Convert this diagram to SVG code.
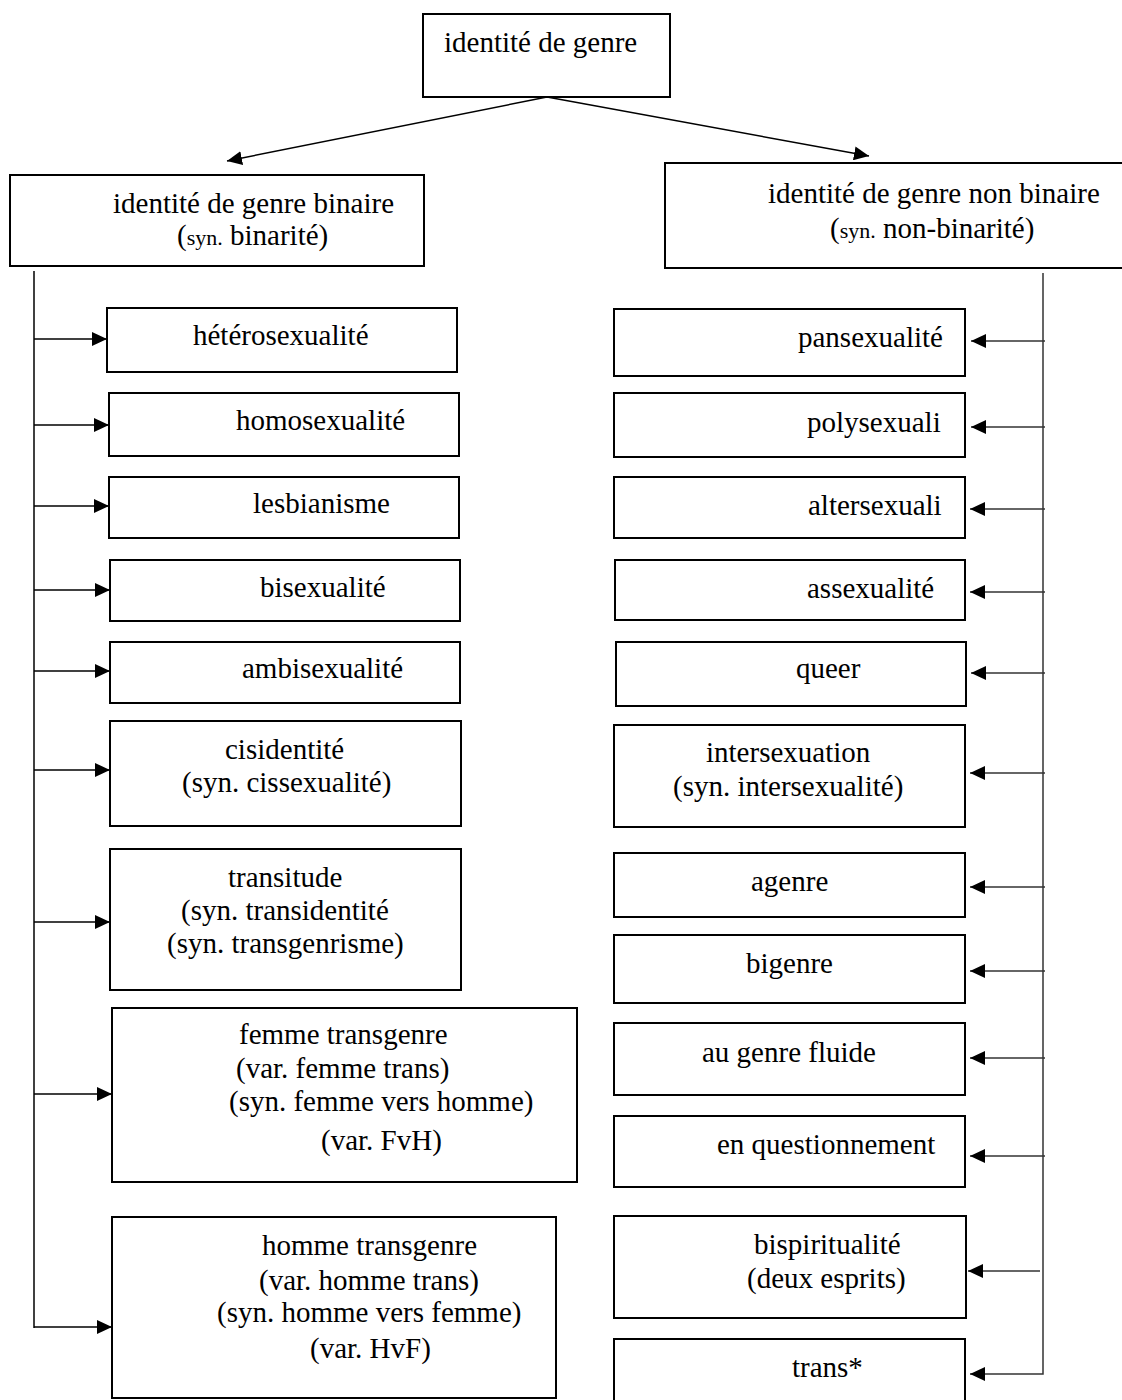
<svg xmlns="http://www.w3.org/2000/svg" width="1122" height="1400" viewBox="0 0 1122 1400">
<style>
.box{fill:#fff;stroke:#000;stroke-width:2}
.t{font-family:"Liberation Serif","Times New Roman",serif;font-size:29px;fill:#000}
.s{font-size:22px}
.c{stroke:#000;stroke-width:1.5;fill:none}
.g{stroke:#333;stroke-width:1.5;fill:none}
</style>
<defs>
<marker id="ah" viewBox="0 0 15 14" refX="15" refY="7" markerWidth="15" markerHeight="14" markerUnits="userSpaceOnUse" orient="auto">
<path d="M0,0 L15,7 L0,14 z" fill="#000"/>
</marker>
</defs>
<rect width="1122" height="1400" fill="#fff"/>

<g id="connectors">
<line class="c" x1="547" y1="97" x2="227" y2="161" marker-end="url(#ah)"/>
<line class="c" x1="547" y1="97" x2="869" y2="156" marker-end="url(#ah)"/>
<line class="c" x1="34" y1="271" x2="34" y2="1328"/>
<line class="c" x1="34" y1="339" x2="107" y2="339" marker-end="url(#ah)"/>
<line class="c" x1="34" y1="425" x2="109" y2="425" marker-end="url(#ah)"/>
<line class="c" x1="34" y1="506" x2="109" y2="506" marker-end="url(#ah)"/>
<line class="c" x1="34" y1="590" x2="110" y2="590" marker-end="url(#ah)"/>
<line class="c" x1="34" y1="671" x2="110" y2="671" marker-end="url(#ah)"/>
<line class="c" x1="34" y1="770" x2="110" y2="770" marker-end="url(#ah)"/>
<line class="c" x1="34" y1="922" x2="110" y2="922" marker-end="url(#ah)"/>
<line class="c" x1="34" y1="1094" x2="112" y2="1094" marker-end="url(#ah)"/>
<line class="c" x1="34" y1="1327" x2="112" y2="1327" marker-end="url(#ah)"/>
<polyline class="g" points="1043,273 1043,1374 970,1374" marker-end="url(#ah)"/>
<line class="g" x1="1045" y1="341" x2="971" y2="341" marker-end="url(#ah)"/>
<line class="g" x1="1045" y1="427" x2="971" y2="427" marker-end="url(#ah)"/>
<line class="g" x1="1045" y1="509" x2="970" y2="509" marker-end="url(#ah)"/>
<line class="g" x1="1045" y1="592" x2="970" y2="592" marker-end="url(#ah)"/>
<line class="g" x1="1045" y1="673" x2="971" y2="673" marker-end="url(#ah)"/>
<line class="g" x1="1045" y1="773" x2="970" y2="773" marker-end="url(#ah)"/>
<line class="g" x1="1045" y1="887" x2="970" y2="887" marker-end="url(#ah)"/>
<line class="g" x1="1045" y1="971" x2="970" y2="971" marker-end="url(#ah)"/>
<line class="g" x1="1045" y1="1058" x2="970" y2="1058" marker-end="url(#ah)"/>
<line class="g" x1="1045" y1="1156" x2="970" y2="1156" marker-end="url(#ah)"/>
<line class="g" x1="1040" y1="1271" x2="968" y2="1271" marker-end="url(#ah)"/>
</g>

<g id="n-root"><rect class="box" x="423" y="14" width="247" height="83"/><text class="t" x="444" y="52">identité de genre</text></g>

<g id="n-binaire"><rect class="box" x="10" y="175" width="414" height="91"/>
<text class="t" x="113" y="213">identité de genre binaire</text>
<text class="t" x="177" y="245">(<tspan class="s">syn.</tspan> binarité)</text></g>

<g id="n-nonbinaire"><rect class="box" x="665" y="163" width="460" height="105"/>
<text class="t" x="768" y="203">identité de genre non binaire</text>
<text class="t" x="830" y="238">(<tspan class="s">syn.</tspan> non-binarité)</text></g>

<g id="n-hetero"><rect class="box" x="107" y="308" width="350" height="64"/><text class="t" x="193" y="345">hétérosexualité</text></g>
<g id="n-homo"><rect class="box" x="109" y="393" width="350" height="63"/><text class="t" x="236" y="430">homosexualité</text></g>
<g id="n-lesb"><rect class="box" x="109" y="477" width="350" height="61"/><text class="t" x="253" y="513">lesbianisme</text></g>
<g id="n-bisex"><rect class="box" x="110" y="560" width="350" height="61"/><text class="t" x="260" y="597">bisexualité</text></g>
<g id="n-ambi"><rect class="box" x="110" y="642" width="350" height="61"/><text class="t" x="242" y="678">ambisexualité</text></g>
<g id="n-cis"><rect class="box" x="110" y="721" width="351" height="105"/>
<text class="t" x="225" y="759">cisidentité</text>
<text class="t" x="182" y="792">(syn. cissexualité)</text></g>
<g id="n-transitude"><rect class="box" x="110" y="849" width="351" height="141"/>
<text class="t" x="228" y="887">transitude</text>
<text class="t" x="181" y="920">(syn. transidentité</text>
<text class="t" x="167" y="953">(syn. transgenrisme)</text></g>
<g id="n-femme"><rect class="box" x="112" y="1008" width="465" height="174"/>
<text class="t" x="239" y="1044">femme transgenre</text>
<text class="t" x="236" y="1078">(var. femme trans)</text>
<text class="t" x="229" y="1111">(syn. femme vers homme)</text>
<text class="t" x="321" y="1150">(var. FvH)</text></g>
<g id="n-homme"><rect class="box" x="112" y="1217" width="444" height="181"/>
<text class="t" x="262" y="1255">homme transgenre</text>
<text class="t" x="259" y="1290">(var. homme trans)</text>
<text class="t" x="217" y="1322">(syn. homme vers femme)</text>
<text class="t" x="310" y="1358">(var. HvF)</text></g>

<g id="n-pansex"><rect class="box" x="614" y="309" width="351" height="67"/><text class="t" x="798" y="347">pansexualité</text></g>
<g id="n-polysex"><rect class="box" x="614" y="393" width="351" height="64"/><text class="t" x="807" y="432">polysexuali</text></g>
<g id="n-alter"><rect class="box" x="614" y="477" width="351" height="61"/><text class="t" x="808" y="515">altersexuali</text></g>
<g id="n-assex"><rect class="box" x="615" y="560" width="350" height="60"/><text class="t" x="807" y="598">assexualité</text></g>
<g id="n-queer"><rect class="box" x="616" y="642" width="350" height="64"/><text class="t" x="796" y="678">queer</text></g>
<g id="n-intersex"><rect class="box" x="614" y="725" width="351" height="102"/>
<text class="t" x="706" y="762">intersexuation</text>
<text class="t" x="673" y="796">(syn. intersexualité)</text></g>
<g id="n-agenre"><rect class="box" x="614" y="853" width="351" height="64"/><text class="t" x="751" y="891">agenre</text></g>
<g id="n-bigenre"><rect class="box" x="614" y="935" width="351" height="68"/><text class="t" x="746" y="973">bigenre</text></g>
<g id="n-fluide"><rect class="box" x="614" y="1023" width="351" height="72"/><text class="t" x="702" y="1062">au genre fluide</text></g>
<g id="n-quest"><rect class="box" x="614" y="1116" width="351" height="71"/><text class="t" x="717" y="1154">en questionnement</text></g>
<g id="n-bispirit"><rect class="box" x="614" y="1216" width="352" height="102"/>
<text class="t" x="754" y="1254">bispiritualité</text>
<text class="t" x="747" y="1288">(deux esprits)</text></g>
<g id="n-trans"><rect class="box" x="614" y="1339" width="351" height="70"/><text class="t" x="792" y="1377">trans*</text></g>
</svg>
